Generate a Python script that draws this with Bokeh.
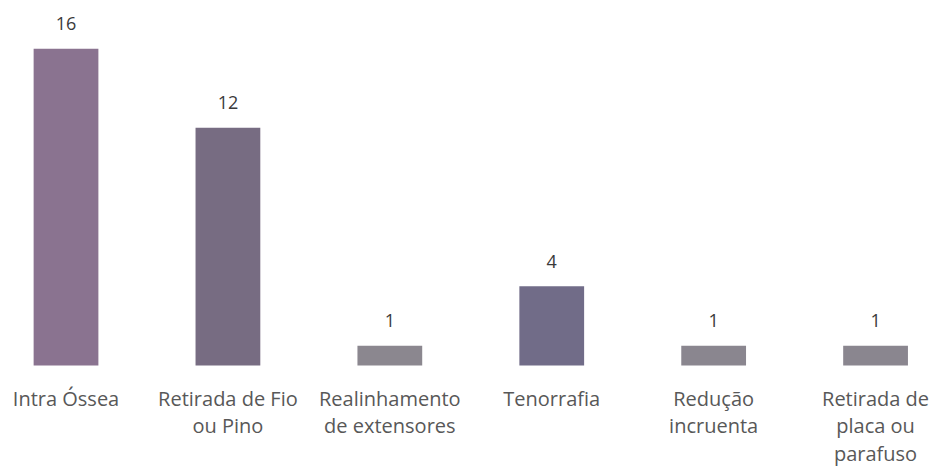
from bokeh.plotting import figure
from bokeh.models import ColumnDataSource, Range1d
from bokeh.core.properties import value
from bokeh.embed import file_html
from bokeh.resources import INLINE

categories = ["Intra Óssea", "Retirada de Fio\nou Pino", "Realinhamento\nde extensores",
              "Tenorrafia", "Redução\nincruenta", "Retirada de\nplaca ou\nparafuso"]
counts = [16, 12, 1, 4, 1, 1]
bar_colors = ["#8a7390", "#776c82", "#8b878f", "#716c88", "#8a868f", "#8a868f"]

xs = list(range(len(categories)))
src = ColumnDataSource(dict(x=xs, top=counts, cat=categories,
                            lbl=[str(c) for c in counts], color=bar_colors,
                            zero=[0] * len(xs)))

p = figure(width=934, height=467, output_backend="svg", toolbar_location=None,
           x_range=Range1d(-0.4046, 5.364), y_range=Range1d(-5.15, 18.43),
           min_border=0, min_border_left=0, min_border_right=0,
           min_border_top=0, min_border_bottom=0)
p.axis.visible = False
p.grid.visible = False
p.outline_line_color = None
p.background_fill_color = "white"
p.border_fill_color = "white"

p.vbar(x="x", top="top", bottom=0, width=0.4, source=src, fill_color="color",
       line_color=None)

p.text(x="x", y="top", text="lbl", source=src, text_align="center",
       text_baseline="middle", y_offset=-25, text_font=value("Open Sans"),
       text_font_size="18px", text_color="#3a3a3a")

p.text(x="x", y="zero", text="cat", source=src, text_align="center",
       text_baseline="top", y_offset=19, text_font=value("Open Sans"),
       text_font_size="20px", text_color="#585858", text_line_height=1.02)

open("out.html", "w").write(file_html(p, INLINE))
